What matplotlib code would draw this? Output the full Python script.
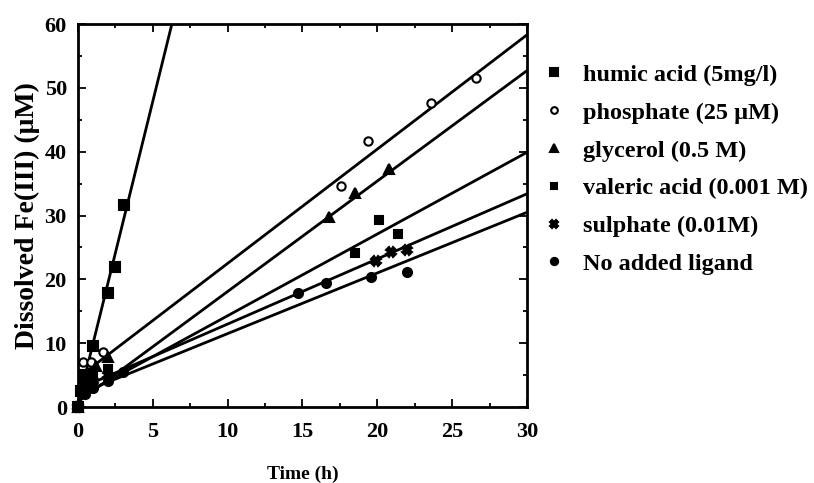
import numpy as np
import matplotlib
matplotlib.use("Agg")
import matplotlib.pyplot as plt
from matplotlib.ticker import MultipleLocator

plt.rcParams['font.family'] = ['Liberation Serif', 'DejaVu Serif']
plt.rcParams['font.weight'] = 'bold'

# Data: time (h) and dissolved Fe(III) (uM)
humic_t = [0, 0.2, 0.5, 1.0, 2.0, 2.5, 3.1]
humic_fe = [0, 2.5, 5.0, 9.5, 17.9, 21.9, 31.7]

phosphate_t = [0, 0.35, 0.9, 1.7, 17.6, 19.4, 23.6, 26.6]
phosphate_fe = [0, 7.1, 7.1, 8.6, 34.6, 41.7, 47.6, 51.6]

glycerol_t = [0, 0.5, 1.2, 2.0, 16.8, 18.5, 20.8]
glycerol_fe = [0, 4.5, 6.5, 7.8, 29.8, 33.5, 37.3]

valeric_t = [0, 0.5, 1.0, 2.0, 18.5, 20.1, 21.4]
valeric_fe = [0, 3.5, 5.0, 6.0, 24.1, 29.3, 27.1]

sulphate_t = [0, 0.5, 1.0, 2.0, 19.9, 20.9, 22.0]
sulphate_fe = [0, 3.0, 4.0, 5.0, 22.9, 24.3, 24.6]

none_t = [0, 0.5, 1.0, 2.0, 3.0, 14.7, 16.6, 19.6, 22.0]
none_fe = [0, 2.0, 3.0, 4.0, 5.5, 17.8, 19.5, 20.4, 21.2]

# fitted lines (slope, intercept)
fit_slope = [9.5, 1.79, 1.73, 1.28, 1.02, 0.95]
fit_intercept = [0.4, 4.6, 0.8, 1.5, 2.8, 2.0]

labels = ['humic acid (5mg/l)', 'phosphate (25 \u03bcM)', 'glycerol (0.5 M)',
          'valeric acid (0.001 M)', 'sulphate (0.01M)', 'No added ligand']
series = [(humic_t, humic_fe), (phosphate_t, phosphate_fe), (glycerol_t, glycerol_fe),
          (valeric_t, valeric_fe), (sulphate_t, sulphate_fe), (none_t, none_fe)]
markers = ['s', 'o', '^', 's', 'X', 'o']
facecolors = ['black', 'white', 'black', 'black', 'black', 'black']
sizes = [7, 6, 7, 6, 7, 6.5]

fig = plt.figure(figsize=(8.14, 4.83), dpi=100)
ax = fig.add_axes([0.0958, 0.1573, 0.5516, 0.793])

xfit = np.linspace(0, 30, 200)
handles = []
for (t, fe), m, fc, ms, a, b, lab in zip(series, markers, facecolors, sizes,
                                        fit_slope, fit_intercept, labels):
    ax.plot(xfit, a * xfit + b, color='black', lw=2.0)
    h, = ax.plot(t, fe, linestyle='none', marker=m, markersize=ms,
                 markerfacecolor=fc, markeredgecolor='black', markeredgewidth=1.5,
                 clip_on=False, label=lab)
    handles.append(h)

ax.set_xlim(0, 30)
ax.set_ylim(0, 60)
ax.xaxis.set_major_locator(MultipleLocator(5))
ax.xaxis.set_minor_locator(MultipleLocator(2.5))
ax.yaxis.set_major_locator(MultipleLocator(10))
ax.yaxis.set_minor_locator(MultipleLocator(5))
ax.tick_params(which='both', direction='in', top=True, right=True, width=1.3)
ax.tick_params(which='major', length=6, labelsize=16)
ax.tick_params(axis='x', which='major', pad=11)
ax.tick_params(axis='y', which='major', pad=8)
ax.tick_params(which='minor', length=3)
for s in ax.spines.values():
    s.set_linewidth(2.0)
for lbl in ax.get_xticklabels() + ax.get_yticklabels():
    lbl.set_fontweight('bold')

ax.set_xlabel('Time (h)', fontsize=14, fontweight='bold', labelpad=17)
ax.set_ylabel('Dissolved Fe(III) (\u03bcM)', fontsize=20, fontweight='bold', labelpad=3)

fig.legend(handles=handles, loc='upper left', bbox_to_anchor=(0.642, 0.913),
           frameon=False, handlelength=0.8, handletextpad=0.8,
           labelspacing=0.65, markerscale=0.8,
           prop={'weight': 'bold', 'size': 17.5})

fig.savefig('out.png', dpi=100)
